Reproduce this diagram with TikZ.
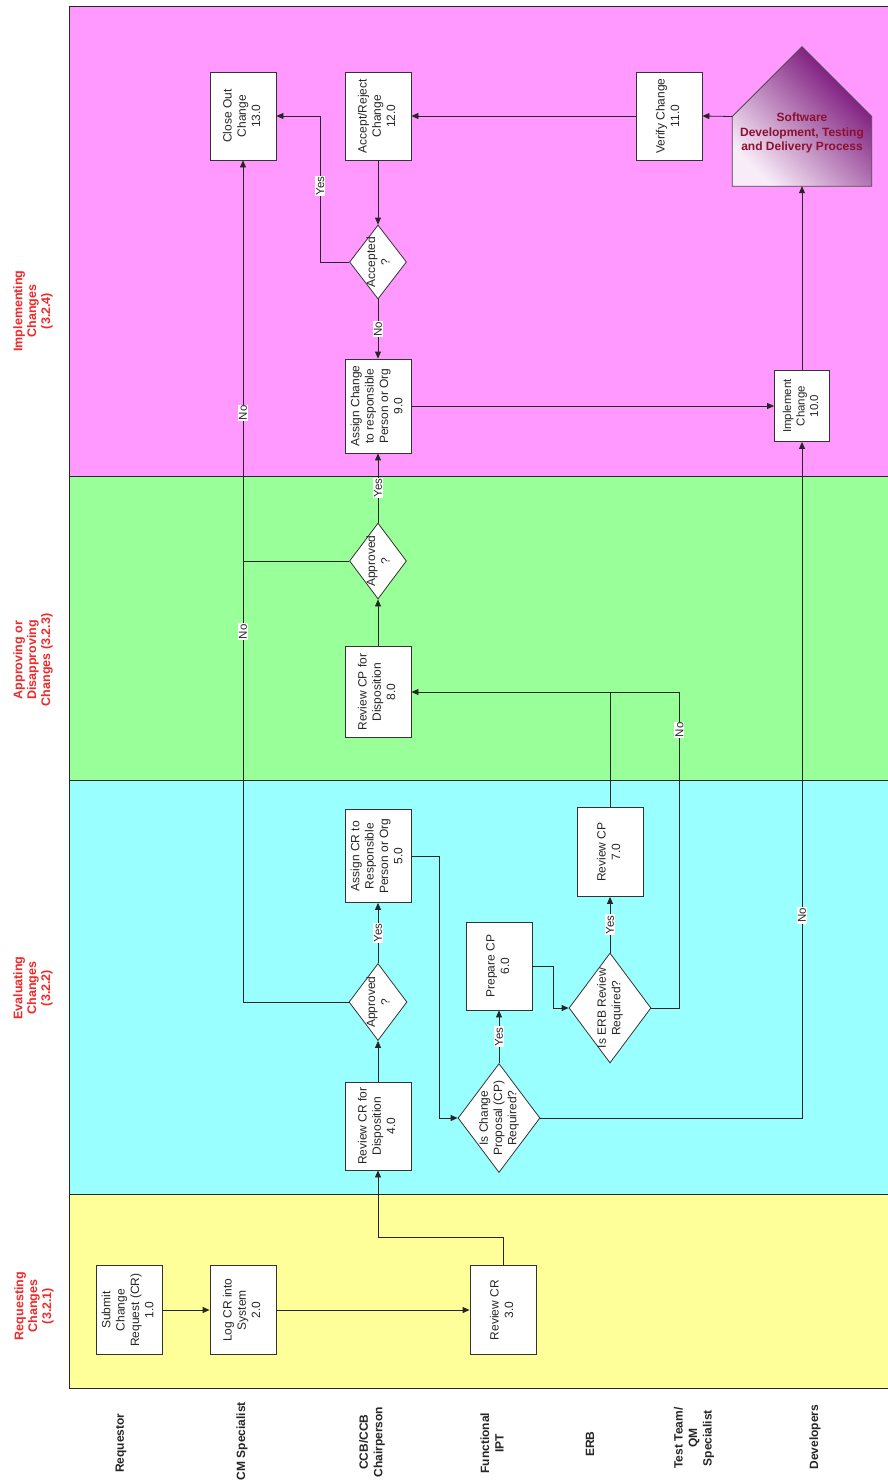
\documentclass[tikz,border=0pt]{standalone}
\usepackage{fontspec}
\setmainfont{Liberation Sans}
\usepackage{graphicx}
\usetikzlibrary{shapes.geometric,arrows.meta}

\definecolor{implband}{HTML}{FF99FF}
\definecolor{apprband}{HTML}{99FF99}
\definecolor{evalband}{HTML}{99FFFF}
\definecolor{reqband}{HTML}{FFFF99}
\definecolor{phasered}{HTML}{EE2A2A}
\definecolor{procred}{HTML}{8C1030}
\definecolor{procdark}{HTML}{6E006E}
\definecolor{procmid}{HTML}{A850A8}
\definecolor{proclight}{HTML}{F8ECF8}

\newcommand{\vtxt}[1]{\rotatebox{90}{\begin{tabular}{@{}c@{}}#1\end{tabular}}}

\begin{document}
\begin{tikzpicture}[
    x=1pt, y=-1pt,
    band/.style={draw=black!85, line width=0.9pt},
    box/.style={draw=black!80, fill=white, line width=0.8pt, inner sep=0pt,
                minimum width=66, minimum height=89,
                text=black!85, font=\fontsize{12}{14.3}\selectfont},
    decision/.style={diamond, draw=black!80, fill=white, line width=0.8pt,
                inner sep=0pt},
    dtext/.style={rotate=90, align=center, text=black!85, inner sep=0pt,
                font=\fontsize{12}{14.3}\selectfont},
    flow/.style={black!85, line width=0.8pt, -{Triangle[length=7pt, width=6pt]}},
    link/.style={black!85, line width=0.8pt},
    ans/.style={rotate=90, fill=white, inner sep=1pt, text=black!85,
                font=\fontsize{11.5}{13}\selectfont},
    phase/.style={rotate=90, align=center, text=phasered,
                font=\bfseries\fontsize{12.5}{13.8}\selectfont},
    role/.style={rotate=90, align=center, text=black!85,
                font=\bfseries\fontsize{12}{14.5}\selectfont}
]

\fill[white] (0,0) rectangle (888,1481);
\useasboundingbox (0,0) rectangle (888,1481);

% ---------- phase bands ----------
\draw[band, fill=implband] (69,6)    rectangle (892,476);
\draw[band, fill=apprband] (69,476)  rectangle (892,780);
\draw[band, fill=evalband] (69,780)  rectangle (892,1194);
\draw[band, fill=reqband]  (69,1194) rectangle (892,1388);

% ---------- phase labels ----------
\node[phase] (ph4) at (33,311)  {Implementing\\Changes\\(3.2.4)};
\node[phase] (ph3) at (33,660)  {Approving or\\Disapproving\\Changes (3.2.3)};
\node[phase] (ph2) at (33,988)  {Evaluating\\Changes\\(3.2.2)};
\node[phase] (ph1) at (34,1306) {Requesting\\Changes\\(3.2.1)};

% ---------- roles ----------
\node[role] (rreq)  at (121,1443) {Requestor};
\node[role] (rcm)   at (242,1441) {CM Specialist};
\node[role] (rccb)  at (372,1442) {CCB/CCB\\Chairperson};
\node[role] (ript)  at (492,1443) {Functional\\IPT};
\node[role] (rerb)  at (590,1444) {ERB};
\node[role] (rtest) at (694,1438) {Test Team/\\QM\\Specialist};
\node[role] (rdev)  at (815,1437) {Developers};

% ---------- process steps ----------
\node[box] (n1) at (129,1310) {\vtxt{Submit\\Change\\Request (CR)\\1.0}};
\node[box] (n2) at (243,1310) {\vtxt{Log CR into\\System\\2.0}};
\node[box] (n3) at (503,1310) {\vtxt{Review CR\\3.0}};
\node[box, minimum height=88] (n4) at (378,1126) {\vtxt{Review CR for\\Disposition\\4.0}};
\node[box, minimum height=93] (n5) at (378,856)  {\vtxt{Assign CR to\\Responsible\\Person or Org\\5.0}};
\node[box, minimum height=88] (n6) at (499,966)  {\vtxt{Prepare CP\\6.0}};
\node[box] (n7) at (610,852) {\vtxt{Review CP\\7.0}};
\node[box, minimum height=91] (n8) at (378,692)  {\vtxt{Review CP for\\Disposition\\8.0}};
\node[box, minimum height=94] (n9) at (378,406)  {\vtxt{Assign Change\\to responsible\\Person or Org\\9.0}};
\node[box, minimum width=55, minimum height=71,
      font=\fontsize{11.5}{13.5}\selectfont] (n10) at (802,406) {\vtxt{Implement\\Change\\10.0}};
\node[box, minimum height=88] (n11) at (669,116) {\vtxt{Verify Change\\11.0}};
\node[box, minimum height=88] (n12) at (378,116) {\vtxt{Accept/Reject\\Change\\12.0}};
\node[box, minimum height=88] (n13) at (243,116) {\vtxt{Close Out\\Change\\13.0}};

% ---------- decisions ----------
\node[decision, minimum width=58, minimum height=77]  (apv1) at (378,1002) {};
\node[dtext] (apv1t) at (apv1) {Approved\\?};
\node[decision, minimum width=82, minimum height=109] (iscp) at (499,1118) {};
\node[dtext] (iscpt) at (iscp) {Is Change\\Proposal (CP)\\Required?};
\node[decision, minimum width=82, minimum height=110] (erb)  at (610,1008) {};
\node[dtext] (erbt) at (erb) {Is ERB Review\\Required?};
\node[decision, minimum width=57, minimum height=76]  (apv2) at (378,561) {};
\node[dtext] (apv2t) at (apv2) {Approved\\?};
\node[decision, minimum width=57, minimum height=74]  (acc)  at (378,262) {};
\node[dtext] (acct) at (acc) {Accepted\\?};

% ---------- software development process ----------
\node[inner sep=0pt, minimum width=139, minimum height=139] (sw) at (802,116.5) {};
\shade[draw=black!70, line width=0.8pt, left color=proclight, middle color=procmid,
       right color=procdark, shading angle=135]
  (sw.south west) -- (sw.west) -- (sw.north) -- (sw.east) -- (sw.south east) -- cycle;
\node[align=center, text=procred, font=\bfseries\fontsize{12}{14.3}\selectfont]
  (swt) at (802,133) {Software\\Development, Testing\\and Delivery Process};

% ---------- connectors ----------
\draw[flow] (n1.east) -- (n2.west);
\draw[flow] (n2.east) -- (n3.west);
\draw[flow] (n3.north) -- ++(0,-28) -| (n4.south);
\draw[flow] (n4.north) -- (apv1.south);
\draw[flow] (apv1.north) -- node[ans] {Yes} (n5.south);
\draw[flow] (apv1.west) -| (n13.south) node[ans, pos=0.72] {No} node[ans, pos=0.85] {No};
\draw[flow] (n5.east) -- ++(28,0) |- (iscp.west);
\draw[flow] (iscp.north) -- node[ans] {Yes} (n6.south);
\draw[flow] (iscp.east) -| node[ans, pos=0.65] {No} (n10.south);
\draw[flow] (n6.east) -- ++(21,0) |- (erb.west);
\draw[flow] (erb.north) -- node[ans] {Yes} (n7.south);
\draw[flow] (erb.east) -- ++(28,0) |- node[ans, pos=0.44] {No} (n8.east);
\draw[link] (n7.north) -- (n7.north |- n8.east);
\draw[flow] (n8.north) -- (apv2.south);
\draw[link] (apv2.west) -- (apv2.west -| n13.south);
\draw[flow] (apv2.north) -- node[ans] {Yes} (n9.south);
\draw[flow] (n9.east) -- (n10.west);
\draw[flow] (n10.north) -- (sw.south);
\draw[flow] (sw.west) -- (n11.east);
\draw[flow] (n11.west) -- (n12.east);
\draw[flow] (n12.south) -- (acc.north);
\draw[flow] (acc.west) -- ++(-29,0) |- node[ans, pos=0.26] {Yes} (n13.east);
\draw[flow] (acc.south) -- node[ans] {No} (n9.north);

\end{tikzpicture}
\end{document}
